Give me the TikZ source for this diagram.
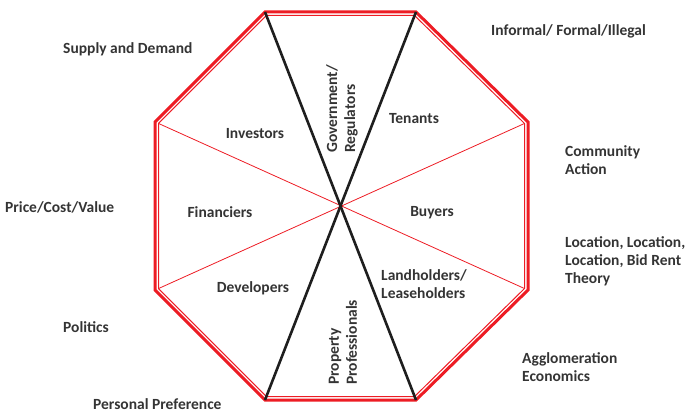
\documentclass[tikz,border=0pt]{standalone}
\usepackage{fontspec}
\setmainfont{Carlito}
\definecolor{txt}{RGB}{52,52,52}
\definecolor{oct}{RGB}{237,28,36}
\definecolor{blk}{RGB}{30,30,30}
\begin{document}
\begin{tikzpicture}[x=1pt,y=-1pt,
  lbl/.style={font=\fontsize{15.5}{18}\selectfont\bfseries, text=txt, inner sep=0pt, align=left},
  outerline/.style={draw=oct, line width=3pt, line join=miter},
  innerline/.style={draw=oct, line width=1pt, line join=miter},
  spoke/.style={draw=oct, line width=0.8pt},
  divider/.style={draw=blk, line width=2.6pt}]
\useasboundingbox (0,0) rectangle (689,412);
% outer vertices
\coordinate (A) at (265,12);
\coordinate (B) at (416,12);
\coordinate (C) at (528,122);
\coordinate (D) at (528,290);
\coordinate (E) at (416,400);
\coordinate (F) at (265,400);
\coordinate (G) at (155,290);
\coordinate (H) at (155,122);
% inner vertices
\coordinate (Ai) at (266.45,15.5);
\coordinate (Bi) at (414.57,15.5);
\coordinate (Ci) at (524.5,123.47);
\coordinate (Di) at (524.5,288.53);
\coordinate (Ei) at (414.57,396.5);
\coordinate (Fi) at (266.45,396.5);
\coordinate (Gi) at (158.5,288.55);
\coordinate (Hi) at (158.5,123.45);
% spokes
\draw[spoke] (Hi) -- (Di);
\draw[spoke] (Gi) -- (Ci);
% octagon double border
\draw[outerline] (A) -- (B) -- (C) -- (D) -- (E) -- (F) -- (G) -- (H) -- cycle;
\draw[innerline] (Ai) -- (Bi) -- (Ci) -- (Di) -- (Ei) -- (Fi) -- (Gi) -- (Hi) -- cycle;
% black dividers
\draw[divider] (A) -- (E);
\draw[divider] (B) -- (F);
% inner labels
\node[lbl] (inv) at (255,134) {Investors};
\node[lbl] (ten) at (414,119) {Tenants};
\node[lbl] (fin) at (220,212) {Financiers};
\node[lbl] (buy) at (432,213) {Buyers};
\node[lbl] (dev) at (253,288) {Developers};
\node[lbl, anchor=west] (land) at (381,284) {Landholders/\\Leaseholders};
\node[lbl, rotate=90, anchor=west] (gov) at (342,153) {Government/\\Regulators};
\node[lbl, rotate=90, anchor=west] (prop) at (343,385) {Property\\Professionals};
% outer labels
\node[lbl, anchor=west] (sd) at (63,49) {Supply and Demand};
\node[lbl, anchor=west] (iff) at (491,31) {Informal/ Formal/Illegal};
\node[lbl, anchor=west] (ca) at (565,160) {Community\\Action};
\node[lbl, anchor=west] (pcv) at (5,207) {Price/Cost/Value};
\node[lbl, anchor=west] (loc) at (565,261) {Location, Location,\\Location, Bid Rent\\Theory};
\node[lbl, anchor=west] (pol) at (63,327) {Politics};
\node[lbl, anchor=west] (pp) at (93,404) {Personal Preference};
\node[lbl, anchor=west] (agg) at (522,367) {Agglomeration\\Economics};
\end{tikzpicture}
\end{document}
